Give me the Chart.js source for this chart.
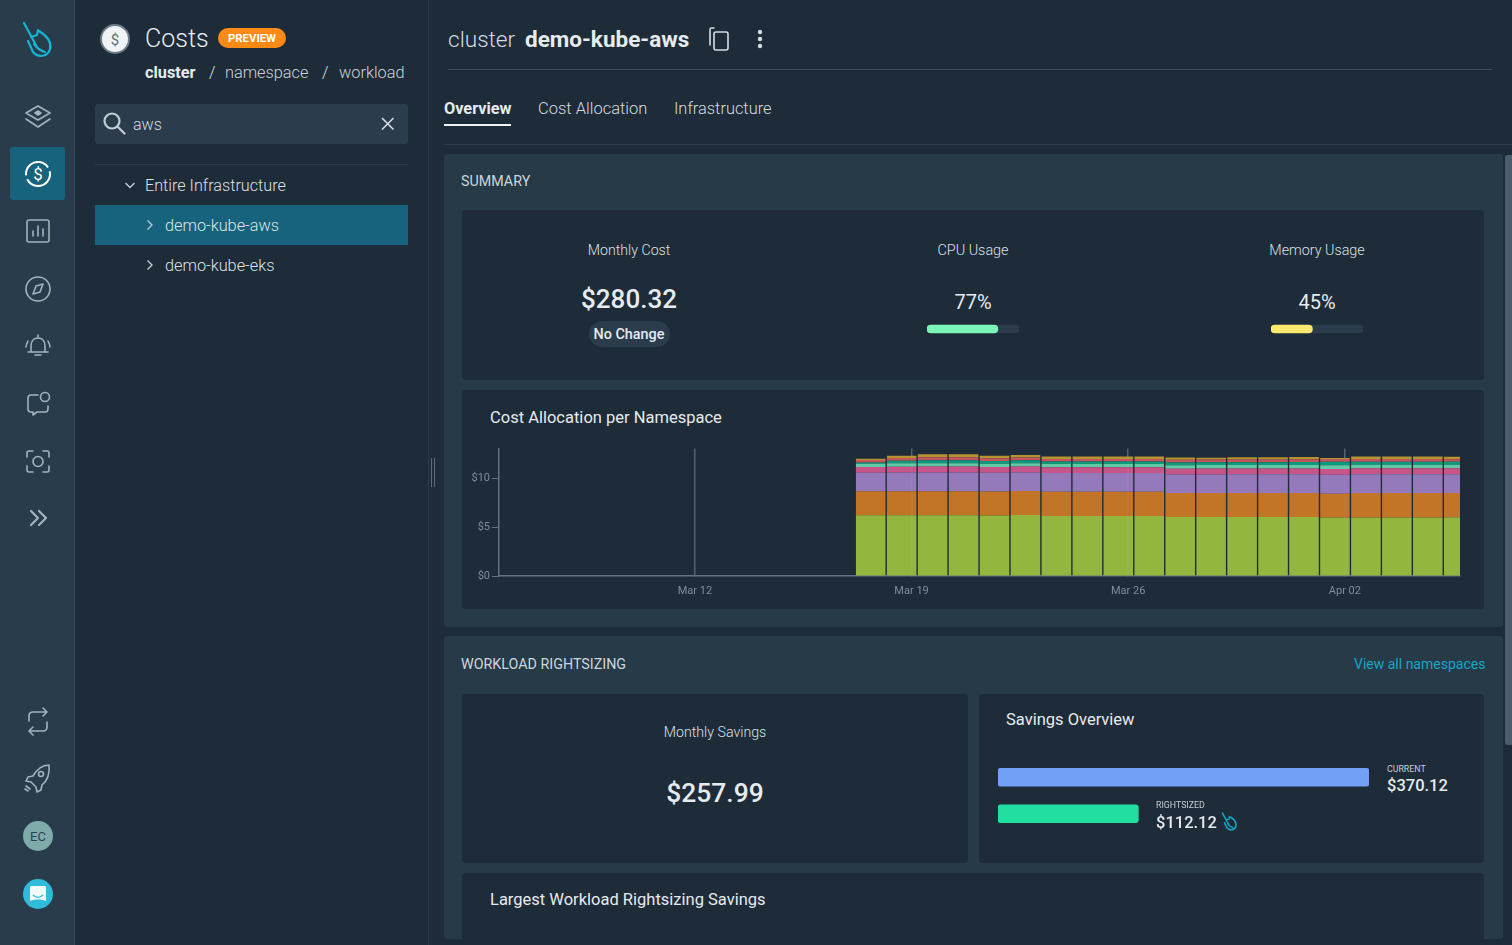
<!DOCTYPE html>
<html>
<head>
<meta charset="utf-8">
<title>Costs</title>
<script src="https://cdn.jsdelivr.net/npm/chart.js@4/dist/chart.umd.min.js"></script>
<style>
html, body { margin: 0; width: 1512px; height: 945px; overflow: hidden; background: #1e2b38; font-family: Roboto, sans-serif; color: #dfe5ea; }
.box, .t, canvas, svg { position: absolute; }
.t { white-space: nowrap; transform: translateY(-50%); font-weight: 300; }
.c { transform: translate(-50%, -50%); }
.card { background: #1e2b38; border-radius: 4px; }
.section { background: #273a48; border-radius: 3px; }
.ic { fill: none; stroke: #a3b3be; stroke-width: 1.6; stroke-linecap: round; stroke-linejoin: round; }
</style>
</head>
<body>
<!-- left icon rail -->
<div class="box" style="left:0;top:0;width:74px;height:945px;background:#293c4b;border-right:1px solid #3a4d5b"></div>
<div class="box" style="left:10px;top:147px;width:55px;height:53px;background:#17627c;border-radius:3px"></div>
<svg style="left:0;top:0" width="75" height="945" viewBox="0 0 75 945">
  <g fill="none" stroke="#14b4d2" stroke-width="2.2" stroke-linecap="round" stroke-linejoin="round">
    <path d="M24 23 L37 47 M31 37 L37 35 L38 30 M39 31 C47 36 52 42 50 49 C48 57 38 58 33 52 L28 41 M34 44 C37 48 41 51 45 52"/>
  </g>
  <g class="ic">
    <path d="M38 106 L50 113 L38 120 L26 113 Z M26 119 L38 127 L50 119"/>
    <path d="M38 111 L41 113 L38 115 L35 113 Z" fill="#a3b3be"/>
    <rect x="27" y="220" width="22" height="22" rx="2"/>
    <path d="M33 236 V231 M38 236 V226 M43 236 V229"/>
    <circle cx="38" cy="289" r="12"/>
    <path d="M33 294 L36 286 L43 284 L40 292 Z"/>
    <path d="M38 335 V338 M31 352 V346 C31 341 34 338 38 338 C42 338 45 341 45 346 V352 M28 352 H48 M35 355 H41 M28 341 C27 343 26 345 26 347 M48 341 C49 343 50 345 50 347"/>
    <path d="M38 395 H31 C29 395 28 396 28 398 V409 C28 411 29 412 31 412 H33 V415 L37 412 H45 C47 412 48 411 48 409 V406"/>
    <circle cx="45" cy="397" r="4.5"/>
    <path d="M27 457 V453 C27 452 28 451 29 451 H33 M43 451 H47 C48 451 49 452 49 453 V457 M49 466 V470 C49 471 48 472 47 472 H43 M33 472 H29 C28 472 27 471 27 470 V466"/>
    <circle cx="38" cy="461.5" r="5"/>
    <path d="M31 511 L38 518 L31 525 M39 511 L46 518 L39 525" stroke-width="2.2"/>
    <path d="M29 721 V716 C29 713 31 712 33 712 H47 M43 708 L47 712 L43 716 M47 722 V727 C47 730 45 731 43 731 H29 M33 727 L29 731 L33 735"/>
    <path d="M49 765 C42 765 37 769 33 776 L28 777 L26 781 L31 782 L36 787 L37 792 L41 790 L42 785 C47 781 50 775 49 765 Z"/>
    <circle cx="41" cy="774" r="2.5"/>
    <path d="M26 786 L30 789 M25 789 L28 791"/>
  </g>
  <circle cx="38" cy="174" r="12" fill="none" stroke="#fff" stroke-width="2" stroke-dasharray="32 4"/>
  <text x="38" y="180" text-anchor="middle" font-family="Roboto" font-size="17" fill="#fff">$</text>
  <circle cx="38" cy="836" r="15" fill="#7fabab"/>
  <text x="38" y="841" text-anchor="middle" font-family="Roboto" font-size="13" fill="#2c4150">EC</text>
  <circle cx="38" cy="894" r="15" fill="#2ebcd8"/>
  <path d="M31 886 H45 C46 886 46 887 46 888 V901 C41 899 35 899 30 901 V888 C30 887 30 886 31 886 Z" fill="#f0fafc"/>
  <path d="M33 895 C36 898 40 898 43 895" fill="none" stroke="#2ebcd8" stroke-width="1.5"/>
</svg>

<!-- tree panel -->
<div class="box" style="left:428px;top:0;width:1px;height:945px;background:#2c3d4b"></div>
<div class="box" style="left:431px;top:458px;width:1px;height:29px;background:#5d6e7a"></div>
<div class="box" style="left:434px;top:458px;width:1px;height:29px;background:#5d6e7a"></div>
<svg style="left:99px;top:23px" width="32" height="32">
  <circle cx="16" cy="16" r="14" fill="#f0f3f5" stroke="#6d7c87" stroke-width="2"/>
  <text x="16" y="21.5" text-anchor="middle" font-family="Roboto" font-size="15" fill="#5f7280">$</text>
</svg>
<div class="t" style="left:145px;top:38px;font-size:25px;color:#e6ebef">Costs</div>
<div class="box" style="left:218px;top:28px;width:68px;height:20px;border-radius:10px;background:#fb8b14"></div>
<div class="t c" style="left:252px;top:38px;font-size:11.4px;font-weight:700;color:#fff">PREVIEW</div>
<div class="t" style="left:145px;top:72px;font-size:16.3px;font-weight:700;color:#e6ebef">cluster</div>
<div class="t" style="left:209px;top:72px;font-size:16.3px">/</div>
<div class="t" style="left:225px;top:72px;font-size:16.3px;color:#ccd4da">namespace</div>
<div class="t" style="left:322px;top:72px;font-size:16.3px">/</div>
<div class="t" style="left:339px;top:72px;font-size:16.3px;color:#ccd4da">workload</div>
<div class="box" style="left:95px;top:104px;width:313px;height:40px;background:#2b3c4c;border-radius:3px"></div>
<svg style="left:100px;top:108px" width="30" height="30"><g class="ic" style="stroke:#c3ced6;stroke-width:2.2"><circle cx="12" cy="13" r="7.5"/><path d="M18 19 L24.5 25.5"/></g></svg>
<div class="t" style="left:133px;top:124px;font-size:16px;color:#d5dce1">aws</div>
<svg style="left:380px;top:116px" width="16" height="16"><path d="M2 2 L13.5 13.5 M13.5 2 L2 13.5" stroke="#d5dce1" stroke-width="1.6" fill="none"/></svg>
<div class="box" style="left:95px;top:164px;width:313px;height:1px;background:#2b3c4a"></div>
<svg style="left:124px;top:179px" width="12" height="12"><path d="M1.5 4 L6 8.5 L10.5 4" stroke="#c3ced6" stroke-width="1.4" fill="none"/></svg>
<div class="t" style="left:145px;top:185px;font-size:16.2px;color:#dbe1e6">Entire Infrastructure</div>
<div class="box" style="left:95px;top:205px;width:313px;height:40px;background:#17627c"></div>
<svg style="left:144px;top:219px" width="12" height="12"><path d="M3.5 1.5 L8 6 L3.5 10.5" stroke="#b9c8d1" stroke-width="1.4" fill="none"/></svg>
<div class="t" style="left:165px;top:225px;font-size:16.3px;color:#dbe6ea">demo-kube-aws</div>
<svg style="left:144px;top:259px" width="12" height="12"><path d="M3.5 1.5 L8 6 L3.5 10.5" stroke="#c3ced6" stroke-width="1.4" fill="none"/></svg>
<div class="t" style="left:165px;top:265px;font-size:16.3px;color:#dbe1e6">demo-kube-eks</div>

<!-- header -->
<div class="t" style="left:448px;top:39px;font-size:22.6px;color:#d5dce1">cluster</div>
<div class="t" style="left:525px;top:39px;font-size:22.5px;font-weight:700;color:#e6ebef">demo-kube-aws</div>
<svg style="left:706px;top:25px" width="26" height="28"><g class="ic" style="stroke:#d5dce1"><path d="M8 3 H5 C4 3 4 4 4 5 V20"/><rect x="8" y="7" width="14" height="18" rx="2"/></g></svg>
<svg style="left:754px;top:28px" width="12" height="22" fill="#d5dce1"><circle cx="6" cy="4" r="2.2"/><circle cx="6" cy="11" r="2.2"/><circle cx="6" cy="18" r="2.2"/></svg>
<div class="box" style="left:448px;top:69px;width:1044px;height:1px;background:#3d4f5c"></div>
<div class="t" style="left:444px;top:108px;font-size:16.3px;font-weight:700;color:#e6ebef">Overview</div>
<div class="t" style="left:538px;top:108px;font-size:16.5px;color:#d5dce1">Cost Allocation</div>
<div class="t" style="left:674px;top:108px;font-size:16.4px;color:#d5dce1">Infrastructure</div>
<div class="box" style="left:444px;top:124px;width:67px;height:2px;background:#f0f3f5"></div>
<div class="box" style="left:444px;top:144px;width:1068px;height:1px;background:#2b3c4a"></div>

<!-- sections -->
<div class="box section" style="left:444px;top:154px;width:1059px;height:473px"></div>
<div class="box section" style="left:444px;top:636px;width:1059px;height:303px"></div>
<div class="box" style="left:1505px;top:155px;width:7px;height:590px;background:#4a5d6c;border-radius:3px 0 0 3px"></div>

<div class="t" style="left:461px;top:181px;font-size:14.3px;font-weight:400;color:#ccd5db">SUMMARY</div>
<div class="box card" style="left:462px;top:210px;width:1022px;height:170px"></div>
<div class="t c" style="left:629px;top:250px;font-size:14.2px;color:#dbe1e6">Monthly Cost</div>
<div class="t c" style="left:629px;top:299px;font-size:26px;font-weight:500;color:#e6ebef">$280.32</div>
<div class="box" style="left:589px;top:321px;width:81px;height:26px;border-radius:13px;background:#2b3c4c"></div>
<div class="t c" style="left:629px;top:334px;font-size:14.4px;font-weight:500;color:#e6ebef">No Change</div>
<div class="t c" style="left:973px;top:250px;font-size:14.4px;color:#dbe1e6">CPU Usage</div>
<div class="t c" style="left:973px;top:302px;font-size:20px;font-weight:400;color:#e6ebef">77%</div>
<canvas id="cpuGauge" width="92" height="10" style="left:927px;top:324px"></canvas>
<div class="t c" style="left:1317px;top:250px;font-size:14.3px;color:#dbe1e6">Memory Usage</div>
<div class="t c" style="left:1317px;top:302px;font-size:20px;font-weight:400;color:#e6ebef">45%</div>
<canvas id="memGauge" width="92" height="10" style="left:1271px;top:324px"></canvas>

<div class="box card" style="left:462px;top:390px;width:1022px;height:219px"></div>
<div class="t" style="left:490px;top:417px;font-size:16.5px;font-weight:400;color:#e6ebef">Cost Allocation per Namespace</div>
<canvas id="costChart" width="1022" height="168" style="left:462px;top:440px"></canvas>

<div class="t" style="left:461px;top:664px;font-size:14.3px;font-weight:400;color:#ccd5db">WORKLOAD RIGHTSIZING</div>
<div class="t" style="left:1354px;top:664px;font-size:14px;font-weight:400;color:#16a6c6">View all namespaces</div>
<div class="box card" style="left:462px;top:694px;width:506px;height:169px"></div>
<div class="t c" style="left:715px;top:732px;font-size:14.2px;color:#dbe1e6">Monthly Savings</div>
<div class="t c" style="left:715px;top:793px;font-size:26.4px;font-weight:500;color:#e6ebef">$257.99</div>
<div class="box card" style="left:979px;top:694px;width:505px;height:169px"></div>
<div class="t" style="left:1006px;top:719px;font-size:16.5px;font-weight:400;color:#e6ebef">Savings Overview</div>
<canvas id="savingsChart" width="371" height="73" style="left:998px;top:759px"></canvas>
<div class="t" style="left:1387px;top:769px;font-size:8.8px;font-weight:400;color:#c3ccd3">CURRENT</div>
<div class="t" style="left:1387px;top:785px;font-size:16.5px;font-weight:500;color:#e6ebef">$370.12</div>
<div class="t" style="left:1156px;top:805px;font-size:8.8px;font-weight:400;color:#c3ccd3">RIGHTSIZED</div>
<div class="t" style="left:1156px;top:822px;font-size:16.5px;font-weight:500;color:#e6ebef">$112.12</div>
<svg style="left:1220px;top:811px" width="18" height="20" viewBox="20 20 34 38"><path d="M24 23 L37 47 M31 37 L37 35 L38 30 M39 31 C47 36 52 42 50 49 C48 57 38 58 33 52 L28 41 M34 44 C37 48 41 51 45 52" fill="none" stroke="#14a5c4" stroke-width="3"/></svg>
<div class="box card" style="left:462px;top:873px;width:1022px;height:80px"></div>
<div class="t" style="left:490px;top:899px;font-size:16.5px;font-weight:400;color:#e6ebef">Largest Workload Rightsizing Savings</div>

<script>
// day positions of the bars, counted from Mar 1 (Apr 02 = 33)
const barDays = [17.68, 18.68, 19.68, 20.68, 21.68, 22.68, 23.68, 24.68, 25.68, 26.68, 27.68, 28.68, 29.68, 30.68, 31.68, 32.68, 33.68, 34.68, 35.68, 36.68];
const tickDays = [12, 19, 26, 33];
const tickLabels = ['Mar 12', 'Mar 19', 'Mar 26', 'Apr 02'];
const yTicks = [0, 5, 10];

// daily cost per namespace, bottom of the stack first
const nsGreen  = [6.22, 6.22, 6.22, 6.22, 6.20, 6.26, 6.15, 6.15, 6.15, 6.15, 6.05, 6.04, 6.05, 6.05, 6.05, 5.99, 5.99, 5.99, 5.99, 6.02];
const nsOrange = [2.47, 2.48, 2.48, 2.48, 2.47, 2.45, 2.48, 2.48, 2.48, 2.48, 2.45, 2.46, 2.47, 2.47, 2.47, 2.45, 2.51, 2.51, 2.51, 2.49];
const nsPurple = [1.90, 1.90, 1.91, 1.91, 1.91, 1.91, 1.93, 1.93, 1.93, 1.93, 1.91, 1.91, 1.92, 1.92, 1.92, 1.94, 1.94, 1.94, 1.94, 1.93];
const nsPink   = [0.58, 0.61, 0.61, 0.61, 0.60, 0.61, 0.58, 0.58, 0.58, 0.58, 0.58, 0.60, 0.58, 0.58, 0.59, 0.60, 0.60, 0.60, 0.60, 0.60];
const nsMint   = [0.34, 0.34, 0.34, 0.34, 0.33, 0.34, 0.33, 0.33, 0.33, 0.33, 0.36, 0.36, 0.36, 0.36, 0.36, 0.38, 0.36, 0.36, 0.36, 0.36];
const nsTeal   = [0.12, 0.27, 0.31, 0.31, 0.27, 0.29, 0.26, 0.26, 0.26, 0.26, 0.29, 0.30, 0.29, 0.29, 0.30, 0.34, 0.31, 0.31, 0.31, 0.30];
const nsRed    = [0.27, 0.27, 0.30, 0.30, 0.28, 0.29, 0.27, 0.27, 0.27, 0.27, 0.27, 0.26, 0.27, 0.27, 0.27, 0.30, 0.28, 0.28, 0.28, 0.28];
const nsGold   = [0.12, 0.24, 0.31, 0.31, 0.26, 0.26, 0.24, 0.24, 0.24, 0.24, 0.23, 0.20, 0.23, 0.23, 0.23, 0.10, 0.25, 0.25, 0.25, 0.24];

const usageCpu = [77];
const usageMem = [45];
const savingsLabels = ['Current', 'Rightsized'];
// the rightsized bar is drawn longer than its $112.12 label, kept as pictured
const savingsBars = [370.12, 140];

const seriesList = [
    { values: nsGreen, color: '#99be3ef2' },
    { values: nsOrange, color: '#cb7826f2' },
    { values: nsPurple, color: '#9b7ec2f2' },
    { values: nsPink, color: '#d2578df2' },
    { values: nsMint, color: '#66d2aaf2' },
    { values: nsTeal, color: '#0e9f80f2' },
    { values: nsRed, color: '#cb585ef2' },
    { values: nsGold, color: '#c09a2ef2' }
];

Chart.defaults.animation = false;
Chart.defaults.responsive = false;
Chart.defaults.plugins.legend.display = false;
Chart.defaults.plugins.tooltip.enabled = false;
Chart.defaults.font.family = 'Roboto';

// Cost allocation chart
new Chart(document.getElementById('costChart'), {
    type: 'bar',
    data: {
        datasets: seriesList.map(s => ({
            data: barDays.map((d, i) => ({ x: d, y: s.values[i] })),
            backgroundColor: s.color,
            barPercentage: 0.955,
            categoryPercentage: 1
        }))
    },
    options: {
        layout: { padding: { top: 8, right: 24 } },
        scales: {
            x: {
                type: 'linear',
                stacked: true,
                offset: false,
                min: 5.67,
                max: 36.72,
                afterBuildTicks: scale => { scale.ticks = tickDays.map(v => ({ value: v })); },
                afterFit: scale => { scale.height = 32; },
                grid: { offset: false, color: '#52646f', lineWidth: 1.5, tickLength: 0 },
                border: { color: '#62737f', width: 1.5 },
                ticks: {
                    autoSkip: false,
                    maxRotation: 0,
                    includeBounds: false,
                    padding: 9,
                    color: '#7f8d99',
                    font: { size: 11 },
                    callback: (v, i) => tickLabels[i]
                }
            },
            y: {
                stacked: true,
                min: 0,
                max: 13.06,
                afterBuildTicks: scale => { scale.ticks = yTicks.map(v => ({ value: v })); },
                afterFit: scale => { scale.width = 37; },
                grid: { drawOnChartArea: false, color: '#62737f', tickLength: 7 },
                border: { color: '#62737f', width: 1.5 },
                ticks: {
                    padding: 2,
                    color: '#7f8d99',
                    font: { size: 11 },
                    callback: v => '$' + v
                }
            }
        }
    }
});

// Usage gauges
function drawGauge(id, values, color) {
    new Chart(document.getElementById(id), {
        type: 'bar',
        data: {
            labels: ['usage'],
            datasets: [
                { data: values, backgroundColor: color, order: 1 },
                { data: [100], backgroundColor: '#2b3c4c', order: 2 }
            ]
        },
        options: {
            indexAxis: 'y',
            datasets: { bar: { grouped: false, barThickness: 8, borderRadius: 4, borderSkipped: false } },
            scales: {
                x: { display: false, min: 0, max: 100 },
                y: { display: false }
            }
        }
    });
}
drawGauge('cpuGauge', usageCpu, '#7bf5b8');
drawGauge('memGauge', usageMem, '#fbe96f');

// Savings overview
new Chart(document.getElementById('savingsChart'), {
    type: 'bar',
    data: {
        labels: savingsLabels,
        datasets: [{
            data: savingsBars,
            backgroundColor: ['#72a0f6', '#20dfa0'],
            barThickness: 18,
            borderRadius: 3,
            borderSkipped: false
        }]
    },
    options: {
        indexAxis: 'y',
        scales: {
            x: { display: false, min: 0, max: 370.12 },
            y: { display: false }
        }
    }
});
</script>
</body>
</html>
